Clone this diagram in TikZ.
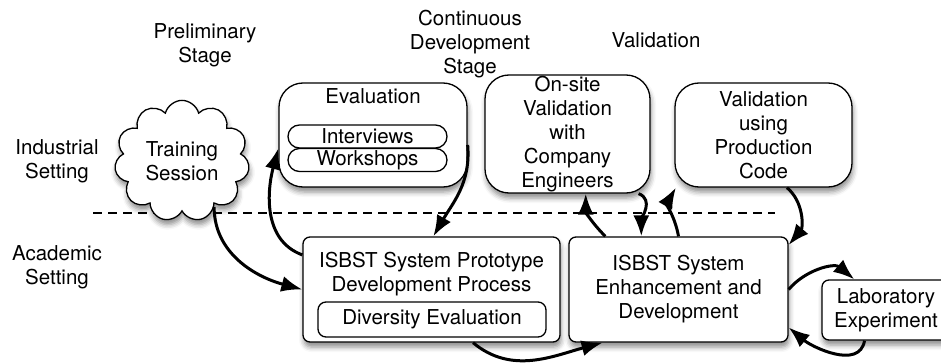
\documentclass[tikz,border=0pt]{standalone}
\usepackage{fontspec}
\setmainfont{TeX Gyre Heros}
\usetikzlibrary{%
    arrows.meta,
    positioning,
    shadows.blur,
    shapes.misc,
    shapes.symbols
}

\begin{document}
\begin{tikzpicture}[x=1pt, y=-1pt,
    every node/.style={font=\fontsize{20.5}{24}\selectfont, align=center},
    shade/.style={blur shadow={shadow xshift=1pt, shadow yshift=-5pt,
      shadow blur radius=5pt, shadow opacity=45}},
    box/.style={draw, fill=white, line width=1.3pt, rounded corners=7pt, shade},
    pill/.style={box, rounded corners=24pt},
    pillpart/.style={draw, fill=white, line width=1.3pt, rounded rectangle,
      minimum width=159pt, minimum height=23pt, inner sep=0pt},
    flow/.style={-{Latex[length=21pt,width=16pt]}, line width=3pt}]
  \useasboundingbox (0,0) rectangle (941,363);

  \node (pre) at (205,45) {Preliminary\\Stage};
  \node (cds) at (470,44) {Continuous\\Development\\Stage};
  \node (val) at (656,40) {Validation};
  \node (ind) at (57,161) {Industrial\\Setting};
  \node (aca) at (57,267) {Academic\\Setting};

  \coordinate (sl) at (93,213);
  \coordinate (sr) at (775,213);
  \draw[line width=1.4pt, dash pattern=on 9pt off 6pt] (sl) -- (sr);

  \node[ cloud, cloud puffs=11, draw, fill=white, line width=1.3pt
       , minimum width=135pt, minimum height=62pt, inner sep=0pt, shade ]
    (ts) at (182,161) {Training\\Session};

  \node[pill, minimum width=188pt, minimum height=104pt] (ev) at (373,135) {};
  \node[below=3pt of ev.north] (evt) {Evaluation};
  \node[pillpart] (iv) at (367.5,136.5) {Interviews};
  \node[pillpart] (ws) at (367.5,160) {Workshops};

  \node[ pill, minimum width=165pt, minimum height=118pt, inner sep=0pt ]
    (os) at (567.5,134) {On-site\\Validation\\with\\Company\\Engineers};
  \node[ pill, minimum width=177pt, minimum height=104pt, inner sep=0pt ]
    (vpc) at (763.5,135) {Validation\\using\\Production\\Code};

  \node[box, minimum width=257pt, minimum height=105pt] (pr) at (431.5,289.5) {};
  \node at (431.5,274) (prt) {ISBST System Prototype\\Development Process};
  \node[ draw, fill=white, line width=1.3pt, rounded corners=8pt
       , minimum width=228pt, minimum height=35pt, inner sep=0pt ]
    (de) at (432,319.5) {Diversity Evaluation};

  \node[ box, minimum width=219pt, minimum height=105pt ]
    (enh) at (678.5,289.5) {ISBST System\\Enhancement and\\Development};
  \node[ box, minimum width=128pt, minimum height=60pt, inner sep=0pt ]
    (lab) at (886,310) {Laboratory\\Experiment};

  \draw[flow] (ts.-55) to[out=-90, in=165] (pr.west);
  \draw[flow] (pr.165) to[out=160, in=-105] (ev.188);
  \draw[flow] (ev.-6) to[out=-85, in=60] (pr.88);
  \draw[flow] (pr.-52) to[out=-40, in=195] (enh.215);
  \draw[flow] (enh.144.5) to[out=135, in=-90] (os.-73);
  \draw[flow] (os.-40) to[out=-20, in=90] (enh.125);
  \draw[flow] (enh.90) to[out=100, in=-120] (vpc.211);
  \draw[flow] (vpc.-66) to[out=-40, in=50] (enh.22);
  \draw[flow] (enh.east) to[out=50, in=140] (lab.136);
  \draw[flow] (lab.-125) to[out=-100, in=-40] (enh.-19);
\end{tikzpicture}
\end{document}
